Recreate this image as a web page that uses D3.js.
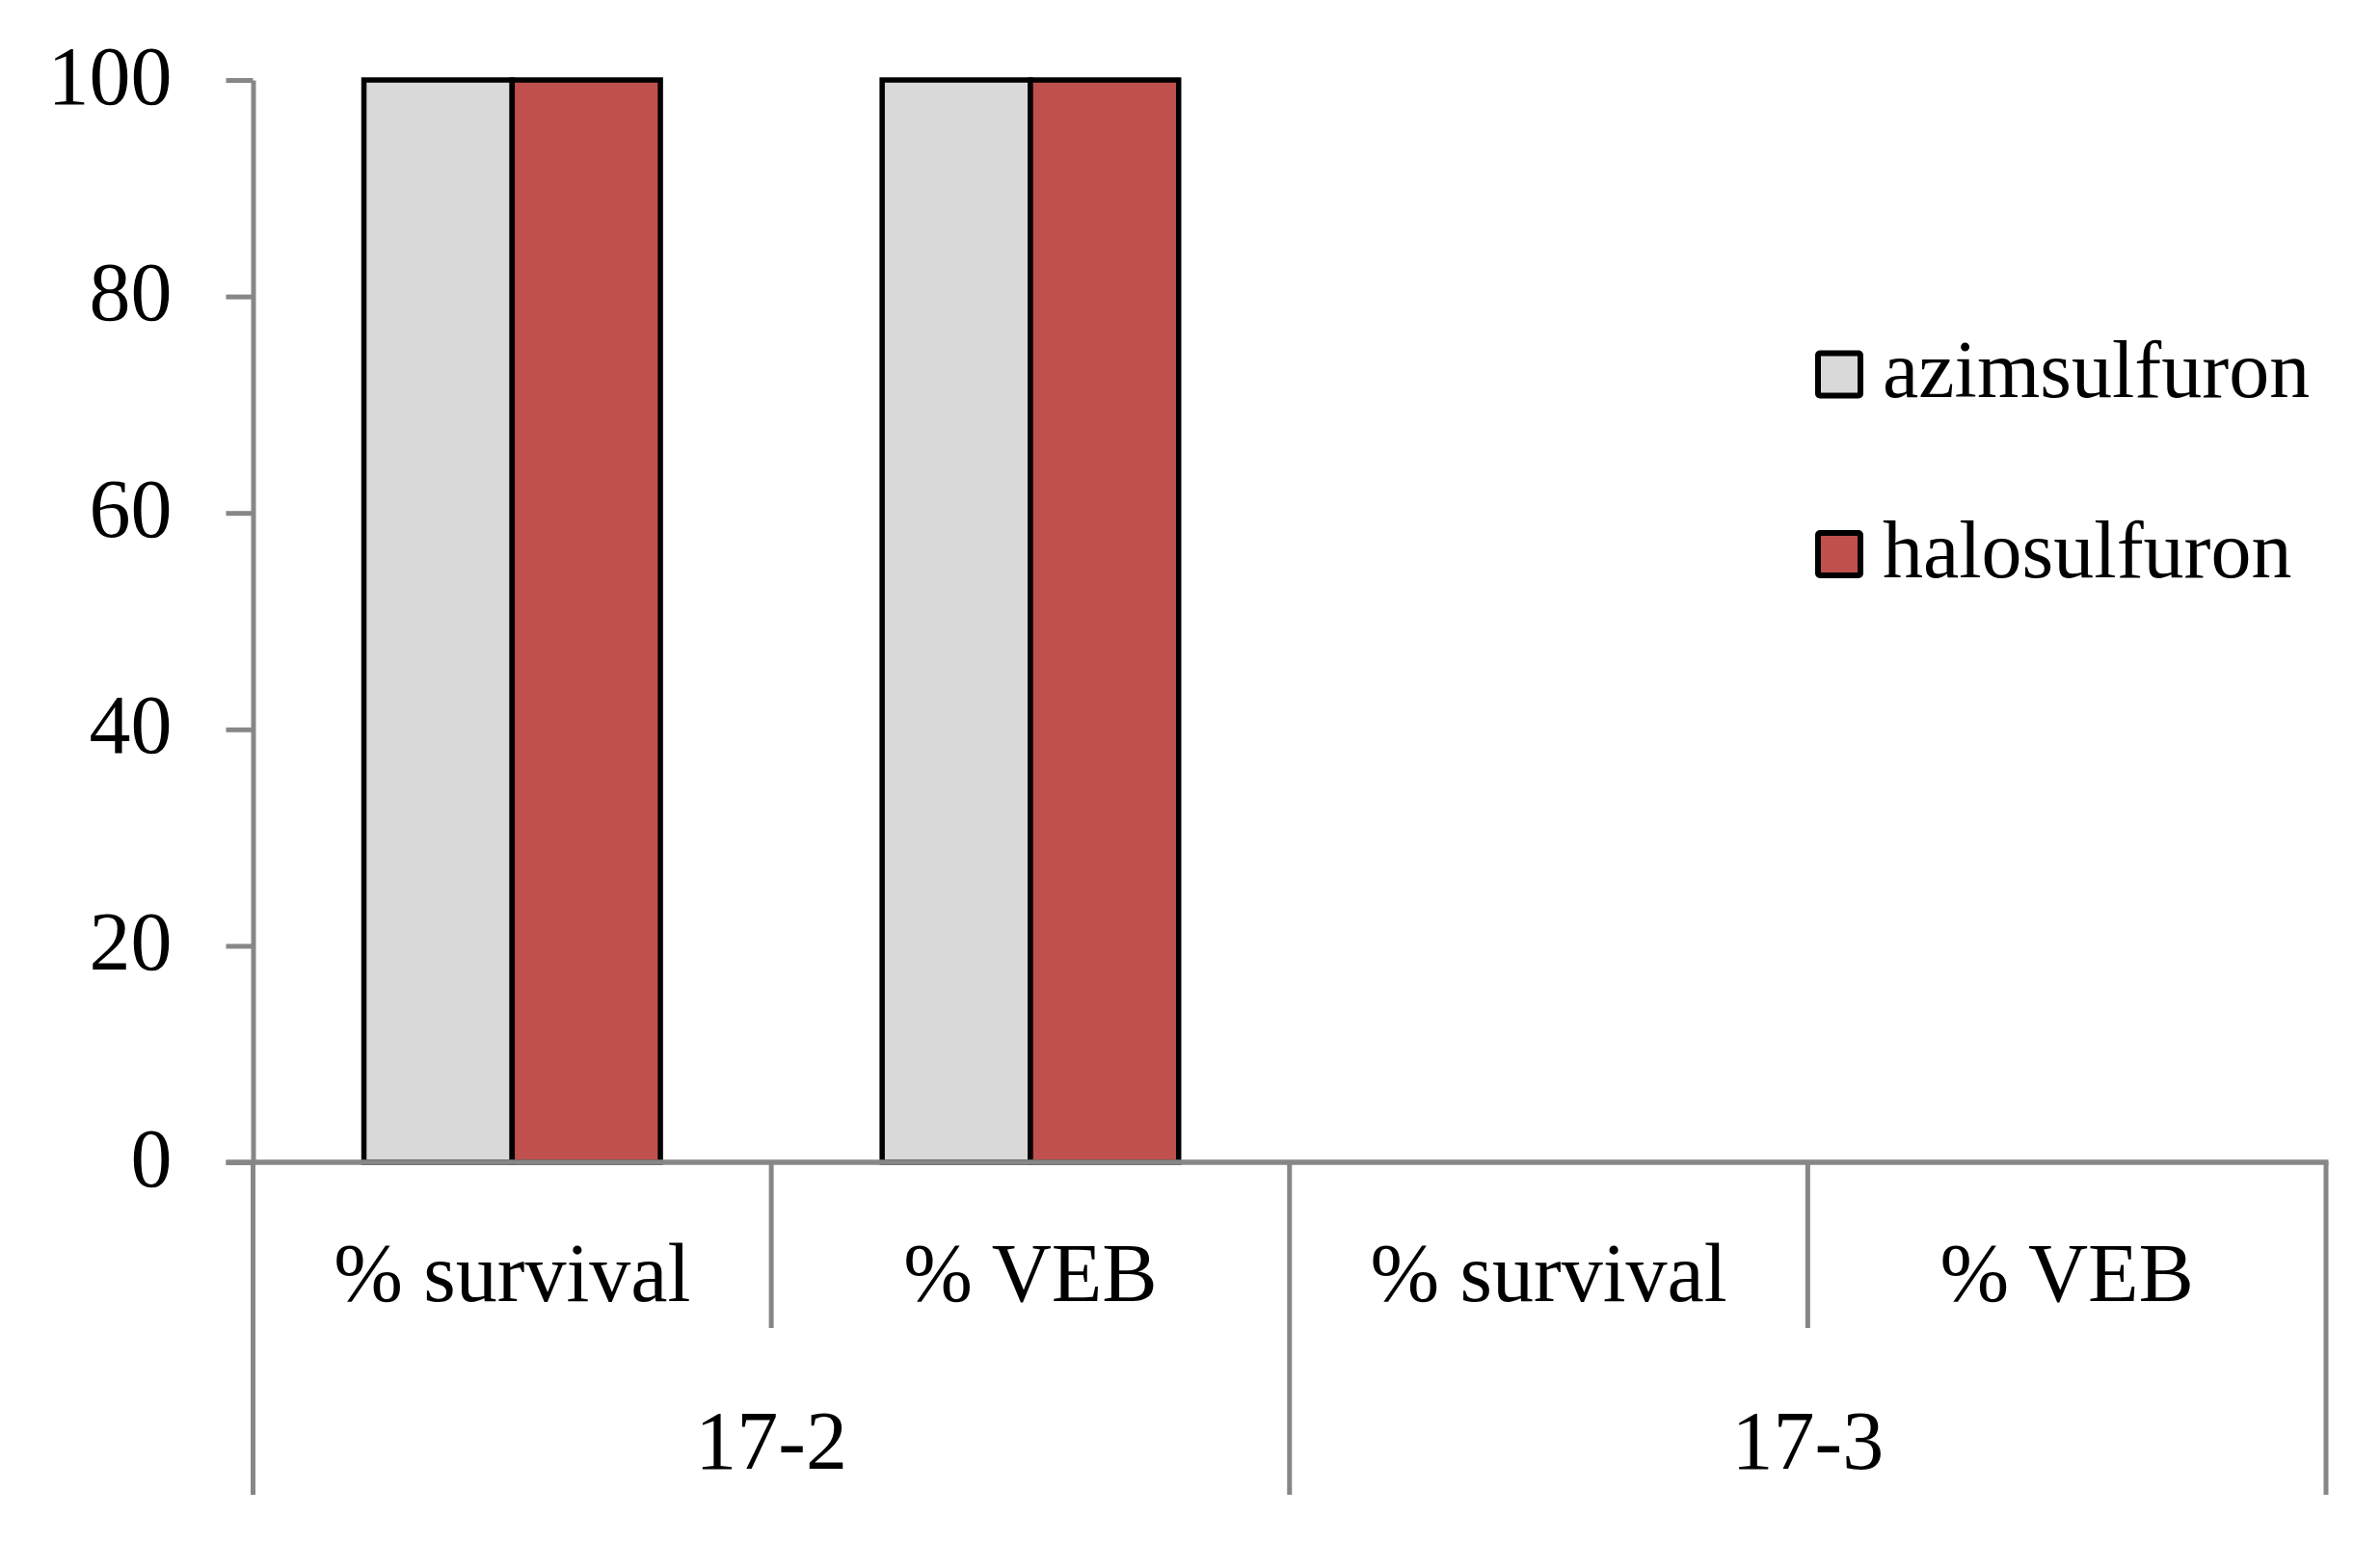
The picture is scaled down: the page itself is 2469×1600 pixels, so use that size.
<!DOCTYPE html>
<html>
<head>
<meta charset="utf-8">
<script src="https://cdn.jsdelivr.net/npm/d3@7"></script>
<style>
  html, body { margin: 0; padding: 0; background: #fff; }
  svg { display: block; }
</style>
</head>
<body>
<svg id="chart"></svg>
<script>
// data
const groups = ["17-2", "17-3"];
const subCategories = ["% survival", "% VEB"];
const seriesNames = ["azimsulfuron", "halosulfuron"];
const azimsulfuron = [100, 100, 0, 0];
const halosulfuron = [100, 100, 0, 0];
const yTicks = [0, 20, 40, 60, 80, 100];
const seriesColors = ["#D9D9D9", "#C0504D"];

const width = 2469, height = 1600;
const plotLeft = 262.5, plotRight = 2413, plotTop = 83, plotBottom = 1206;
const font = "'Liberation Serif', 'DejaVu Serif', serif";
const axisColor = "#878787";

const svg = d3.select("#chart")
    .attr("width", width)
    .attr("height", height);

// one row per bar slot (group x subcategory)
const slots = [];
groups.forEach(g => subCategories.forEach(s => slots.push({group: g, sub: s, key: g + "|" + s})));
slots.forEach((d, i) => { d.values = [azimsulfuron[i], halosulfuron[i]]; });

const x0 = d3.scaleBand()
    .domain(slots.map(d => d.key))
    .range([plotLeft, plotRight])
    .padding(0);

const x1 = d3.scaleBand()
    .domain(seriesNames)
    .range([0, x0.bandwidth()])
    .paddingInner(0)
    .paddingOuter(0.748);

const y = d3.scaleLinear()
    .domain([0, 100])
    .range([plotBottom, plotTop]);

const color = d3.scaleOrdinal().domain(seriesNames).range(seriesColors);

// bars
svg.append("g")
  .selectAll("g")
  .data(slots)
  .join("g")
    .attr("transform", d => `translate(${x0(d.key)},0)`)
  .selectAll("rect")
  .data(d => seriesNames.map((n, i) => ({name: n, value: d.values[i]})))
  .join("rect")
    .attr("x", d => x1(d.name))
    .attr("y", d => y(d.value))
    .attr("width", x1.bandwidth())
    .attr("height", d => y(0) - y(d.value))
    .attr("fill", d => color(d.name))
    .attr("stroke", "#000")
    .attr("stroke-width", 5.5);

// y axis
const yAxis = svg.append("g")
    .attr("transform", `translate(${plotLeft},0)`)
    .call(d3.axisLeft(y).tickValues(yTicks).tickSize(28).tickSizeOuter(0).tickPadding(56));
yAxis.select(".domain").attr("stroke", axisColor).attr("stroke-width", 5);
yAxis.selectAll(".tick line").attr("stroke", axisColor).attr("stroke-width", 5);
yAxis.selectAll(".tick text")
    .attr("fill", "#000")
    .style("font-family", font)
    .style("font-size", "86px")
    .attr("dy", "0.28em");

// x axis line
const axisG = svg.append("g")
    .attr("stroke", axisColor)
    .attr("stroke-width", 5.5);
axisG.append("line")
    .attr("x1", plotLeft - 28).attr("x2", plotRight + 2.5)
    .attr("y1", y(0)).attr("y2", y(0));

// short dividers between subcategories inside a group
const subBottom = 1378, groupBottom = 1551;
const subDividers = slots.filter((d, i) => i % subCategories.length !== 0).map(d => x0(d.key));
axisG.selectAll(".sub")
  .data(subDividers)
  .join("line")
    .attr("stroke-width", 5)
    .attr("x1", d => d).attr("x2", d => d)
    .attr("y1", y(0)).attr("y2", subBottom);

// long dividers around groups
const groupEdges = slots.filter((d, i) => i % subCategories.length === 0).map(d => x0(d.key)).concat([plotRight]);
axisG.selectAll(".grp")
  .data(groupEdges)
  .join("line")
    .attr("stroke-width", 5)
    .attr("x1", d => d).attr("x2", d => d)
    .attr("y1", y(0)).attr("y2", groupBottom);

// subcategory labels
svg.append("g")
    .style("font-family", font)
    .style("font-size", "86px")
    .attr("text-anchor", "middle")
  .selectAll("text")
  .data(slots)
  .join("text")
    .attr("x", d => x0(d.key) + x0.bandwidth() / 2)
    .attr("y", 1350)
    .text(d => d.sub);

// group labels
svg.append("g")
    .style("font-family", font)
    .style("font-size", "86px")
    .attr("text-anchor", "middle")
  .selectAll("text")
  .data(groups)
  .join("text")
    .attr("x", g => {
      const ks = slots.filter(d => d.group === g);
      return (x0(ks[0].key) + x0(ks[ks.length - 1].key) + x0.bandwidth()) / 2;
    })
    .attr("y", 1524)
    .text(g => g);

// legend
const legendY = d3.scalePoint().domain(seriesNames).range([388.5, 575]);
const legend = svg.append("g")
  .selectAll("g")
  .data(seriesNames)
  .join("g")
    .attr("transform", d => `translate(1886,${legendY(d)})`);
legend.append("rect")
    .attr("x", 0).attr("y", -22)
    .attr("width", 44).attr("height", 44)
    .attr("rx", 2)
    .attr("fill", d => color(d))
    .attr("stroke", "#000")
    .attr("stroke-width", 6);
legend.append("text")
    .attr("x", 67)
    .attr("y", 23.5)
    .style("font-family", font)
    .style("font-size", "84px")
    .text(d => d);
</script>
</body>
</html>
